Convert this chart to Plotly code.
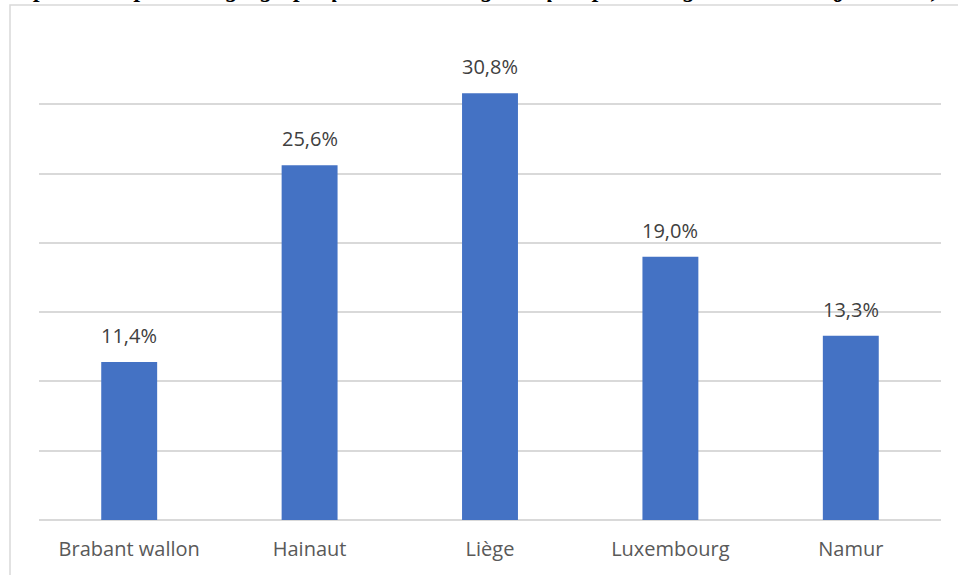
import plotly.graph_objects as go

# Répartition par province
provinces = ["Brabant wallon", "Hainaut", "Liège", "Luxembourg", "Namur"]
parts = [11.4, 25.6, 30.8, 19.0, 13.3]

bar_color = "#4472C4"
grid_color = "#D9D9D9"
font_family = "'Open Sans', sans-serif"

fig = go.Figure(
    go.Bar(
        x=provinces,
        y=parts,
        marker=dict(color=bar_color, line=dict(width=0)),
        hoverinfo="skip",
    )
)

# Étiquettes de valeur au-dessus des barres
for name, val in zip(provinces, parts):
    fig.add_annotation(
        x=name, y=val, xref="x", yref="y",
        text=f"{val:.1f}%".replace(".", ","),
        showarrow=False, yanchor="bottom", yshift=11,
        font=dict(family=font_family, size=20, color="#404040"),
    )

W, H = 958, 575
ml, mr, mt, mb = 39, 17, 35, 55
pw, ph = W - ml - mr, H - mt - mb

def px_x(p):
    return (p - ml) / pw

def px_y(p):
    return (H - mb - p) / ph

# Cadre extérieur du graphique
fig.add_shape(
    type="rect", xref="paper", yref="paper",
    x0=px_x(10), x1=px_x(975), y0=px_y(600), y1=px_y(5),
    line=dict(color=grid_color, width=1.5), fillcolor="rgba(0,0,0,0)",
    layer="below",
)

# Titre du graphe (au-dessus du cadre)
fig.add_annotation(
    xref="paper", yref="paper", x=px_x(-6), y=px_y(4),
    xanchor="left", yanchor="bottom",
    text="<b><i>Graphe 4 : Répartition géographique des SAI diagnostiqués par la Région wallonne (juin 2019)</i></b>",
    showarrow=False,
    font=dict(family="Liberation Serif, serif", size=24, color="#000000"),
)

fig.update_layout(
    width=W, height=H,
    margin=dict(l=ml, r=mr, t=mt, b=mb),
    paper_bgcolor="white", plot_bgcolor="white",
    bargap=0.69,
    showlegend=False,
    hovermode=False,
    xaxis=dict(
        showgrid=False, showline=False, zeroline=False,
        ticks="outside", ticklen=11, tickcolor="rgba(0,0,0,0)",
        tickfont=dict(family=font_family, size=20, color="#595959"),
    ),
    yaxis=dict(
        range=[0, 35], dtick=5, showticklabels=False,
        showgrid=True, gridcolor=grid_color, gridwidth=1.5,
        zeroline=True, zerolinecolor=grid_color, zerolinewidth=1.5,
        showline=False,
    ),
)

fig.write_html("out.html")
